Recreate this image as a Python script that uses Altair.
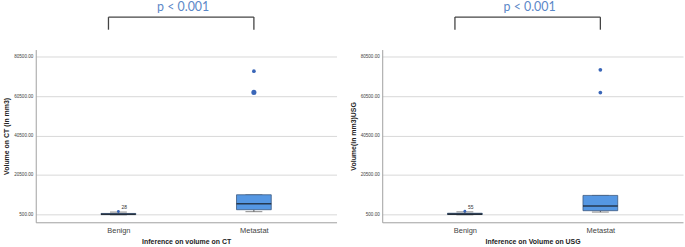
import altair as alt
import pandas as pd

categories = ["Benign", "Metastat"]

# CT panel summary values (mm3)
ct_low = [100, 1700]
ct_q1 = [200, 2700]
ct_med = [400, 5750]
ct_q3 = [800, 10300]
ct_high = [1500, 10300]
ct_out_cat = ["Benign", "Metastat", "Metastat"]
ct_out_val = [1800, 73200, 62400]
ct_out_lab = ["28", "", ""]
ct_out_size = [8, 14, 26]

# USG panel summary values (mm3)
us_low = [100, 1500]
us_q1 = [250, 2200]
us_med = [450, 4550]
us_q3 = [900, 9970]
us_high = [1600, 9970]
us_out_cat = ["Benign", "Metastat", "Metastat"]
us_out_val = [1900, 73900, 62300]
us_out_lab = ["55", "", ""]
us_out_size = [8, 14, 14]

tick_vals = [500, 20500, 40500, 60500, 80500]
p_text = "p < 0.001"
bracket_top = 100700
bracket_bot = 94300
p_y = 103800

Y_DOMAIN = [-3700, 84200]
W, H = 303, 174
BOX_FILL = "#5597e3"
BOX_STROKE = "#3d5a80"
PT_COLOR = "#3a66b8"


def panel(low, q1, med, q3, high, ocat, oval, olab, osize, ytitle, xtitle):
    box = pd.DataFrame({"cat": categories, "low": low, "q1": q1, "med": med,
                        "q3": q3, "high": high})
    outl = pd.DataFrame({"cat": ocat, "val": oval, "lab": olab, "sz": osize})
    xs = alt.Scale(type="point", domain=categories, padding=0.61)
    ys = alt.Scale(domain=Y_DOMAIN, nice=False, zero=False)
    xenc = alt.X("cat:N", scale=xs, title=xtitle,
                 axis=alt.Axis(labelAngle=0, ticks=False, domainColor="#a0a0a0",
                               labelFontSize=7.5, labelColor="#444444",
                               labelPadding=4, titleFontSize=7, titleFontWeight="bold",
                               titleColor="#222222", titlePadding=4, grid=False))
    yaxis = alt.Axis(values=tick_vals, format=".2f", ticks=False, labelFontSize=4.6,
                     labelColor="#444444", labelPadding=3, domainColor="#a0a0a0",
                     gridColor="#d8d8d8", gridWidth=1, titleFontSize=7,
                     titleFontWeight="bold", titleColor="#222222", titlePadding=4)
    base = alt.Chart(box)
    whisk_lo = base.mark_rule(color="#555555", strokeWidth=1).encode(
        x=xenc, y=alt.Y("low:Q", scale=ys, title=ytitle, axis=yaxis), y2="q1:Q")
    whisk_hi = base.mark_rule(color="#555555", strokeWidth=1).encode(
        x="cat:N", y="q3:Q", y2="high:Q")
    cap_lo = base.mark_tick(color="#555555", size=17, thickness=1).encode(
        x="cat:N", y="low:Q")
    cap_hi = base.mark_tick(color="#555555", size=17, thickness=1).encode(
        x="cat:N", y="high:Q")
    bars = base.mark_bar(size=35, fill=BOX_FILL, stroke=BOX_STROKE,
                         strokeWidth=0.8).encode(x="cat:N", y="q1:Q", y2="q3:Q")
    medl = base.mark_tick(color="#111111", size=35, thickness=1.6).encode(
        x="cat:N", y="med:Q")
    pts = alt.Chart(outl).mark_point(filled=True, color=PT_COLOR, opacity=1).encode(
        x="cat:N", y="val:Q", size=alt.Size("sz:Q", scale=None, legend=None))
    labs = alt.Chart(outl).mark_text(fontSize=5, color="#333333", dx=6, dy=-4).encode(
        x="cat:N", y="val:Q", text="lab:N")
    brk = pd.DataFrame({"cat": ["Benign"], "c2": ["Metastat"],
                        "top": [bracket_top], "bot": [bracket_bot]})
    h_rule = alt.Chart(brk).mark_rule(color="#444444", strokeWidth=1.3,
                                      xOffset=-10, x2Offset=0).encode(
        x="cat:N", x2="c2:N", y="top:Q")
    v_left = alt.Chart(brk).mark_rule(color="#444444", strokeWidth=1.3,
                                      xOffset=-10).encode(
        x="cat:N", y="bot:Q", y2="top:Q")
    v_right = alt.Chart(brk).mark_rule(color="#444444", strokeWidth=1.3).encode(
        x="c2:N", y="bot:Q", y2="top:Q")
    ptxt = alt.Chart(pd.DataFrame({"t": [p_text], "y": [p_y]})).mark_text(
        fontSize=12.5, color="#5b88c8", font="Lato", baseline="alphabetic"
    ).encode(x=alt.value(W * 0.49), y="y:Q", text="t:N")
    return alt.layer(whisk_lo, whisk_hi, cap_lo, cap_hi, bars, medl, pts, labs,
                     h_rule, v_left, v_right, ptxt).properties(width=W, height=H)


left = panel(ct_low, ct_q1, ct_med, ct_q3, ct_high, ct_out_cat, ct_out_val,
             ct_out_lab, ct_out_size, "Volume on CT (in mm3)", "Inference on volume on CT")
right = panel(us_low, us_q1, us_med, us_q3, us_high, us_out_cat, us_out_val,
              us_out_lab, us_out_size, "Volume(in mm3)USG", "Inference on Volume on USG")

chart = alt.hconcat(left, right, spacing=12).properties(
    padding={"left": 2, "top": 0, "right": 2, "bottom": 2}
).configure(font="Liberation Sans").configure_view(stroke=None).configure_axis(
    labelFont="Liberation Sans", titleFont="Liberation Sans")

chart.save("out.html", embed_options={"renderer": "svg", "actions": False})
